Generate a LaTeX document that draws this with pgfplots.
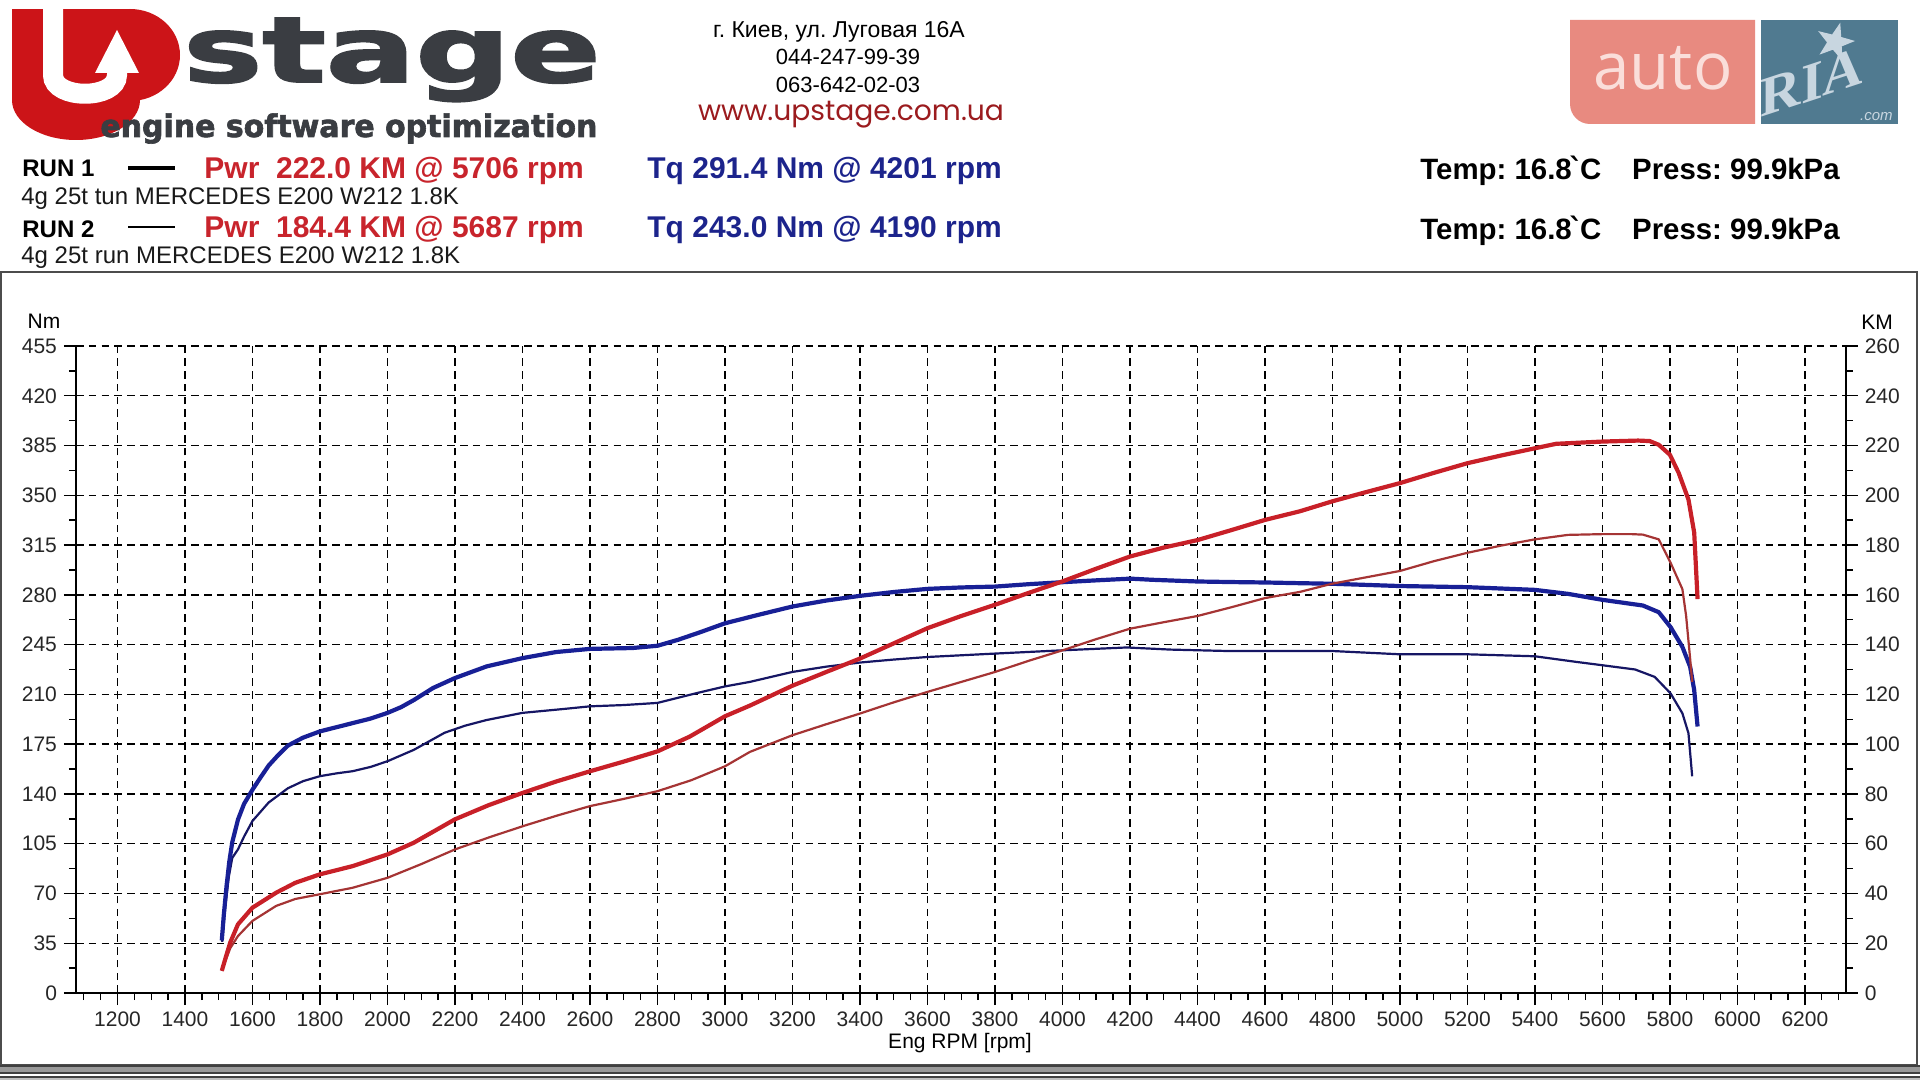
\documentclass[border=0pt]{standalone}
\usepackage{pgfplots}
\pgfplotsset{compat=1.18}
\usepackage{fontspec}
\setmainfont{Liberation Sans}
\newfontfamily\logofont{DejaVu Sans}[BoldFeatures={FakeBold=2}]
\newfontfamily\dejavu{DejaVu Sans}
\newfontfamily\poppins{Poppins}
\newfontfamily\opensans{Open Sans}
\newfontfamily\seriffont{Liberation Serif}
\definecolor{logored}{RGB}{204,20,24}
\definecolor{logogray}{RGB}{58,61,66}
\definecolor{pwrred}{RGB}{200,36,44}
\definecolor{tqblue}{RGB}{28,36,140}
\definecolor{wwwred}{RGB}{155,27,30}
\definecolor{autopink}{RGB}{232,138,128}
\definecolor{autotext}{RGB}{250,222,218}
\definecolor{riablue}{RGB}{80,122,144}
\definecolor{riatext}{RGB}{200,214,224}
\definecolor{tqone}{RGB}{24,32,150}
\definecolor{tqtwo}{RGB}{22,22,100}
\definecolor{pwone}{RGB}{200,32,40}
\definecolor{pwtwo}{RGB}{165,52,52}

\pgfplotstableread{
rpm tq
1509 37
1515 55
1523 75
1531 92
1540 106
1557 122
1575 133
1600 143
1625 152
1648 160
1675 167
1705 174
1749 179.5
1800 184
1850 187
1900 190
1950 193
2000 197
2040 201
2078 206
2135 214.5
2200 221.5
2294 229.7
2400 235.5
2500 239.8
2600 242
2725 242.6
2800 244.2
2861 248.4
2930 254
3000 260
3100 266
3200 271.8
3300 276
3400 279.3
3500 282
3600 284.2
3700 285.2
3800 285.8
3900 287.5
4000 288.9
4100 290.2
4201 291.4
4265 290.6
4400 289.4
4500 289
4600 288.7
4704 288.2
4800 287.8
5000 286.2
5200 285.4
5400 283.5
5498 280.7
5600 276.5
5720 272.5
5767 267.8
5802 257.3
5837 243.4
5860 229.4
5872 213
5882 187.4
}\tqone

\pgfplotstableread{
rpm tq
1510 36
1520 62
1530 82
1540 95
1557 101
1575 110
1600 121
1648 134
1705 144
1750 149
1800 152.5
1850 154.5
1897 156
1950 159
2000 163
2078 171
2169 183
2230 188
2294 192
2400 197
2520 199.7
2600 201.6
2700 202.5
2800 204
2918 211
3000 215.6
3074 218.8
3200 225.8
3300 229.5
3400 232.4
3500 234.5
3600 236.3
3800 238.7
4000 241
4190 243
4321 241.5
4491 240.5
4600 240.5
4800 240.5
5000 238.2
5200 238.2
5400 236.8
5521 232.9
5600 230.5
5697 227.5
5755 222.3
5802 210.7
5837 196.7
5855 182.7
5866 152.4
}\tqtwo

\pgfplotstableread{
rpm km
1509 8.9
1520 14
1534 20.3
1557 27.6
1600 34.3
1670 40.3
1727 44.3
1800 47.7
1897 51
2000 55.7
2078 60.4
2200 69.8
2300 75.5
2400 80.4
2500 85
2600 89.1
2700 93
2800 97.1
2895 103
3000 111.2
3074 115.5
3200 123.5
3300 129
3400 134.4
3500 140.5
3600 146.6
3700 151.5
3800 156
3900 160.8
4000 165.4
4100 170.5
4200 175.4
4300 179
4400 182
4500 186
4600 190.1
4704 193.6
4800 197.6
4900 201.3
5000 204.9
5100 209
5200 212.9
5300 216
5400 218.9
5463 220.7
5600 221.6
5706 222.0
5740 221.8
5767 220.3
5800 216.3
5826 209
5855 198.3
5872 185
5882 158.3
}\pwone

\pgfplotstableread{
rpm km
1509 8.9
1520 13
1534 18
1557 22.9
1600 29
1670 35
1727 37.8
1800 39.7
1897 42.3
2000 46.3
2100 51.8
2200 57.7
2300 62.5
2400 67
2500 71.2
2600 75.1
2700 78
2800 81.1
2900 85.5
3000 91.1
3074 96.9
3200 103.6
3300 108
3400 112.3
3500 116.8
3600 121
3700 125
3800 129
3900 133.5
4000 137.7
4100 142.2
4200 146.4
4300 149
4400 151.5
4500 155
4600 158.7
4704 161.2
4800 164.5
5000 169.6
5100 173.5
5200 176.9
5300 179.8
5400 182.3
5498 184.1
5600 184.4
5687 184.4
5720 184.2
5767 182.3
5802 172.9
5837 162.3
5848 151.6
5860 134.3
5866 125
}\pwtwo

\pgfplotsset{
  dynostyle/.style={
    at={(38pt,-496.5pt)}, anchor=south west,
    scale only axis, width=884.85pt, height=323.5pt,
    xmin=1077, xmax=6321,
    axis line style={-, line width=0.8pt, black},
    tick align=outside,
    major tick length=6pt, minor tick length=3.5pt,
    tick style={black, line width=0.7pt},
    tick label style={font=\fontsize{10.5}{12}\selectfont, text=black!85},
    /pgf/number format/assume math mode=true,
    /pgf/number format/1000 sep={},
  }
}

\begin{document}
\frenchspacing
\begin{tikzpicture}
\path[use as bounding box] (0,0) rectangle (960pt,-540pt);
\begin{scope}[x=0.5pt,y=-0.5pt]
  % panel frame
  \draw[black!70, line width=1pt] (1,272) -- (1917,272) -- (1917,1065) -- (1,1065) -- cycle;
  \fill[black!40] (0,1066) rectangle (1920,1073);
  \draw[black!75, line width=0.6pt] (0,1066) -- (1920,1066) (0,1073) -- (1920,1073);
  \draw[black!75, line width=1pt] (0,1076.5) -- (1920,1076.5);
  \fill[black!25] (0,1078) rectangle (1920,1080);
  % Upstage logo
  \fill[logored] (12,9) rectangle (130,100);
  \fill[logored] (130,55) ellipse [x radius=50, y radius=46];
  \fill[logored] (76,100) ellipse [x radius=64, y radius=40];
  \draw[white, line width=10pt] (53,0) -- (53,75) .. controls (53,100) and (117,100) .. (117,75) -- (117,73);
  \fill[white] (95,73) -- (139,73) -- (117,30) -- cycle;
  \node[anchor=base west, inner sep=0, text=logogray] at (183,82)
    {\resizebox{208.5pt}{32pt}{\logofont\bfseries stage}};
  \node[anchor=base west, inner sep=0, text=logogray] at (100,137)
    {\resizebox{248.5pt}{11.8pt}{\logofont\bfseries engine software optimization}};
  % address
  \node[anchor=base, inner sep=0] at (839,38) {\fontsize{11.5}{13}\selectfont г. Киев, ул. Луговая 16А};
  \node[anchor=base, inner sep=0] at (848,65) {\fontsize{11}{13}\selectfont 044-247-99-39};
  \node[anchor=base, inner sep=0] at (848,93) {\fontsize{11}{13}\selectfont 063-642-02-03};
  \node[anchor=base, inner sep=0, text=wwwred] at (851,121) {\resizebox{153pt}{!}{\poppins\fontsize{11}{13}\selectfont www.upstage.com.ua}};
  % runs
  \node[anchor=base west, inner sep=0] at (22,177) {\fontsize{12}{14}\selectfont\bfseries RUN 1};
  \draw[black, line width=1.7pt] (128,168) -- (175,168);
  \node[anchor=base west, inner sep=0, text=pwrred] at (204,179) {\fontsize{15}{17}\selectfont\bfseries Pwr\ \ 222.0 KM @ 5706 rpm};
  \node[anchor=base west, inner sep=0, text=tqblue] at (647,179) {\fontsize{15}{17}\selectfont\bfseries Tq 291.4 Nm @ 4201 rpm};
  \node[anchor=base west, inner sep=0, text=black!90] at (21,205) {\fontsize{12}{14}\selectfont 4g 25t tun MERCEDES E200 W212 1.8K};
  \node[anchor=base west, inner sep=0] at (22,238) {\fontsize{12}{14}\selectfont\bfseries RUN 2};
  \draw[black, line width=1pt] (128,227) -- (175,227);
  \node[anchor=base west, inner sep=0, text=pwrred] at (204,238) {\fontsize{15}{17}\selectfont\bfseries Pwr\ \ 184.4 KM @ 5687 rpm};
  \node[anchor=base west, inner sep=0, text=tqblue] at (647,238) {\fontsize{15}{17}\selectfont\bfseries Tq 243.0 Nm @ 4190 rpm};
  \node[anchor=base west, inner sep=0, text=black!90] at (21,264) {\fontsize{12}{14}\selectfont 4g 25t run MERCEDES E200 W212 1.8K};
  \node[anchor=base west, inner sep=0] at (1420,180) {\fontsize{14.7}{17}\selectfont\bfseries Temp: 16.8\kern-0.1em{\dejavu ˋ}\kern-0.12em C\hspace{1.05em}Press: 99.9kPa};
  \node[anchor=base west, inner sep=0] at (1420,240) {\fontsize{14.7}{17}\selectfont\bfseries Temp: 16.8\kern-0.1em{\dejavu ˋ}\kern-0.12em C\hspace{1.05em}Press: 99.9kPa};
  % autoRIA logo
  \fill[autopink] (1755,20) -- (1570,20) -- (1570,80) [rounded corners=10pt] -- (1570,124) -- (1700,124) [sharp corners] -- (1755,124) -- cycle;
  \node[anchor=base, inner sep=0, text=autotext] at (1663,90) {\opensans\fontsize{32.7}{36}\selectfont auto};
  \fill[riablue] (1761,20) rectangle (1898,124);
  \fill[riatext] (1840.2,22.7) -- (1841.2,37.0) -- (1855.0,41.0) -- (1841.7,46.4) -- (1842.2,60.7) -- (1832.9,49.7) -- (1819.5,54.6) -- (1827.0,42.4) -- (1818.2,31.1) -- (1832.1,34.5) -- cycle;
  \node[anchor=base east, inner sep=0, text=riatext] at (1893,121) {\fontsize{7.5}{9}\selectfont\itshape .com};
\end{scope}
\node[inner sep=0, text=riatext, yslant=0.33, transform shape] at (906pt,-41pt) {\seriffont\bfseries\fontsize{28}{30}\selectfont RIA};

\begin{axis}[dynostyle,
  ymin=0, ymax=455,
  axis x line*=bottom, axis y line*=left,
  xtick={1200,1400,...,6200},
  ytick={0,35,...,455},
  minor xtick={1100,1150,...,6300},
  minor ytick={17.5,52.5,...,437.5},
  xmajorgrids, ymajorgrids,
  major grid style={black, line width=0.7pt, dash pattern=on 3.8pt off 2.6pt},
]
\addplot[tqtwo, line width=1.1pt, line join=round] table[x=rpm, y=tq] {\tqtwo};
\addplot[tqone, line width=2.1pt, line join=round] table[x=rpm, y=tq] {\tqone};
\end{axis}

\begin{axis}[dynostyle,
  ymin=0, ymax=260,
  axis x line=none, axis y line*=right,
  ytick={0,20,...,260},
  minor ytick={10,30,...,250},
]
\addplot[pwtwo, line width=1.1pt, line join=round] table[x=rpm, y=km] {\pwtwo};
\addplot[pwone, line width=2.1pt, line join=round] table[x=rpm, y=km] {\pwone};
\end{axis}

\begin{scope}[x=0.5pt,y=-0.5pt]
  \node[inner sep=0] at (44,321) {\fontsize{10.5}{12}\selectfont Nm};
  \node[inner sep=0] at (1877,322) {\fontsize{10.5}{12}\selectfont KM};
  \node[inner sep=0] at (960,1043) {\fontsize{10.5}{12}\selectfont Eng RPM [rpm]};
\end{scope}
\end{tikzpicture}
\end{document}
